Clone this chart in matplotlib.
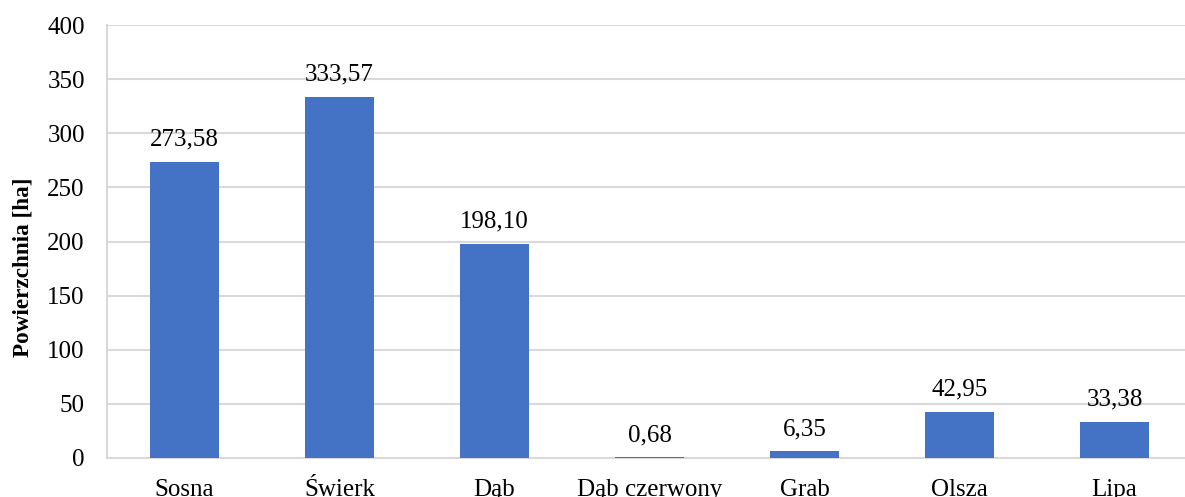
import matplotlib
matplotlib.use("Agg")
import matplotlib.pyplot as plt

species = ["Sosna", "Świerk", "Dąb", "Dąb czerwony", "Grab", "Olsza", "Lipa"]
area_ha = [273.58, 333.57, 198.10, 0.68, 6.35, 42.95, 33.38]
yticks = [0, 50, 100, 150, 200, 250, 300, 350, 400]

plt.rcParams["font.family"] = ["Liberation Serif", "DejaVu Serif"]

fig = plt.figure(figsize=(11.85, 4.97), dpi=100)
ax = fig.add_axes([107 / 1185, 1 - 458 / 497, 1085 / 1185, 433 / 497])

x = range(len(species))
ax.bar(x, area_ha, width=0.45, color="#4472C4", zorder=3)

for xi, v in zip(x, area_ha):
    ax.annotate(f"{v:.2f}".replace(".", ","), (xi, v), xytext=(0, 11.5),
                textcoords="offset points", ha="center", va="baseline",
                fontsize=18, color="#000000")

ax.set_xlim(-0.5, len(species) - 0.5)
ax.set_ylim(0, 400)
ax.set_yticks(yticks)
ax.set_yticklabels([str(t) for t in yticks])
ax.set_xticks(list(x))
ax.set_xticklabels(species)
ax.tick_params(axis="y", length=0, pad=16, labelsize=18)
ax.tick_params(axis="x", length=0, pad=15, labelsize=18)

ax.yaxis.grid(True, color="#D9D9D9", linewidth=1.5, zorder=0)
for side in ["top", "right"]:
    ax.spines[side].set_visible(False)
for side in ["left", "bottom"]:
    ax.spines[side].set_color("#D9D9D9")
    ax.spines[side].set_linewidth(1.5)

fig.text(23 / 1185, 1 - 267 / 497, "Powierzchnia [ha]", rotation=90,
         ha="center", va="center", fontsize=16.7, fontweight="bold")

fig.savefig("out.png", dpi=100)
